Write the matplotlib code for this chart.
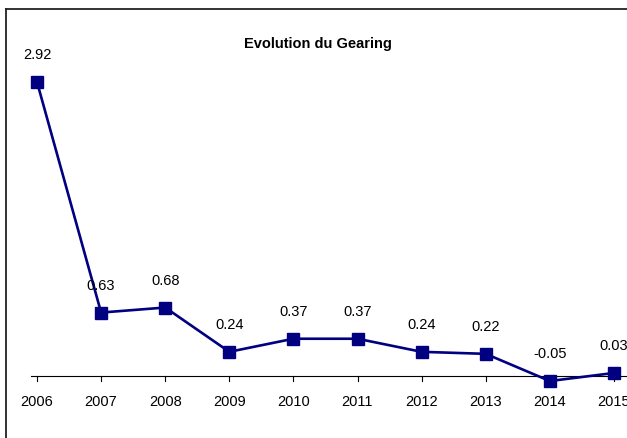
import matplotlib.pyplot as plt
from matplotlib.lines import Line2D

years = [2006, 2007, 2008, 2009, 2010, 2011, 2012, 2013, 2014, 2015]
gearing = [2.92, 0.63, 0.68, 0.24, 0.37, 0.37, 0.24, 0.22, -0.05, 0.03]
labels = ['2.92', '0.63', '0.68', '0.24', '0.37', '0.37', '0.24', '0.22', '-0.05', '0.03']

font = ['Liberation Sans Narrow', 'Liberation Sans', 'DejaVu Sans']

fig = plt.figure(figsize=(6.27, 4.39), dpi=100)
ax = fig.add_axes([0, 0, 1, 1])

# pixel layout: 2006 at x=37, step 64.1 px; y=0 at 377 px, 100.7 px per unit
ax.set_xlim(2006 - 37 / 64.1, 2006 + (627 - 37) / 64.1)
ax.set_ylim(-(439 - 377) / 100.7, 377 / 100.7)

ax.plot(years, gearing, color='#000080', linewidth=1.9, marker='s',
        markersize=8.5, clip_on=False, zorder=3)

for x, y, t in zip(years, gearing, labels):
    ax.annotate(t, (x, y), xytext=(0, 20), textcoords='offset points',
                ha='center', va='center', fontsize=10.5, family=font)

# x axis at zero
ax.axhline(0, xmin=(37 - 6) / 627, color='black', linewidth=0.8, zorder=1)
for x in years:
    ax.plot([x, x], [0, -5 / 100.7], color='black', linewidth=0.8, zorder=1)
    ax.text(x, -25 / 100.7, str(x), ha='center', va='center', fontsize=10.5, family=font)

ax.text(2006 + (318 - 37) / 64.1, (377 - 44) / 100.7, 'Evolution du Gearing',
        ha='center', va='center', fontsize=10.5, fontweight='bold', family=font)

ax.axis('off')

# chart frame (clipped on the right and bottom)
fig.add_artist(Line2D([6 / 627, 6 / 627], [0, 1 - 10 / 439], color='#222222', linewidth=1.3))
fig.add_artist(Line2D([6 / 627, 1], [1 - 10 / 439, 1 - 10 / 439], color='#222222', linewidth=1.3))

fig.savefig('out.png', dpi=100)
